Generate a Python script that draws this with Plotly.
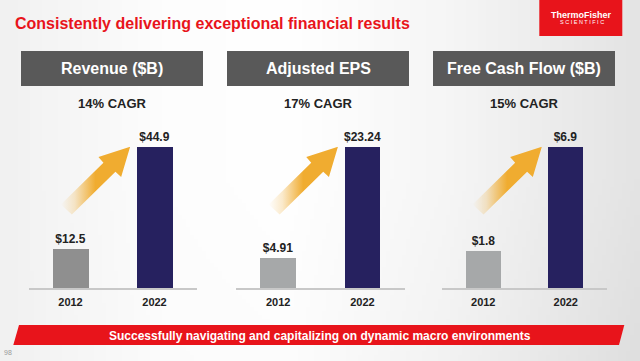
import base64
import struct
import zlib

import numpy as np
import plotly.graph_objects as go

# ---------------- data ----------------
years = ["2012", "2022"]
metrics = ["Revenue ($B)", "Adjusted EPS", "Free Cash Flow ($B)"]
cagr = ["14% CAGR", "17% CAGR", "15% CAGR"]
revenue = [12.5, 44.9]
adjusted_eps = [4.91, 23.24]
free_cash_flow = [1.8, 6.9]
series = [revenue, adjusted_eps, free_cash_flow]

title = "Consistently delivering exceptional financial results"
footer = "Successfully navigating and capitalizing on dynamic macro environments"

# ---------------- styling / layout ----------------
W, H = 640, 361
FONT = "Liberation Sans, Arial, sans-serif"
RED = "#e8141b"
NAVY = "#26215f"
OLD_COLORS = ["#8f8f8f", "#a6a8a9", "#a6a8a9"]
HEADER_GRAY = "#595959"
ORANGE = (240, 172, 48)

panel_px = [(28.5, 196.5), (236.0, 404.5), (442.0, 607.0)]   # x-domain in px
header_px = [(21, 203), (227, 409), (433, 615)]
plot_top_px, plot_bot_px = 146.7, 288.0


def px(x):
    return x / W


def py(y):
    return 1 - y / H


# arrow outline, pixel offsets relative to the tip (y down)
arrow_offsets = [(0, 0), (-31.7, 10.4), (-26.7, 16.0), (-69.3, 57.7),
                 (-58.3, 67.7), (-14.7, 25.0), (-9.0, 30.4), (0, 0)]
arrow_tip_x = 0.71  # in category units


# ---------------- background gradient image ----------------
def make_png(arr):
    h, w, _ = arr.shape
    raw = b"".join(b"\x00" + arr[r].tobytes() for r in range(h))

    def chunk(tag, data):
        c = struct.pack(">I", len(data)) + tag + data
        return c + struct.pack(">I", zlib.crc32(tag + data) & 0xFFFFFFFF)

    ihdr = struct.pack(">IIBBBBB", w, h, 8, 2, 0, 0, 0)
    return (b"\x89PNG\r\n\x1a\n" + chunk(b"IHDR", ihdr) +
            chunk(b"IDAT", zlib.compress(raw, 9)) + chunk(b"IEND", b""))


gw, gh = 160, 90
gx = np.linspace(0, 1, gw)
gy = np.linspace(0, 1, gh)
bx = np.interp(gx, [0, 0.25, 0.45, 0.7, 1.0], [241, 253, 255, 246, 228])
by = np.interp(gy, [0, 0.5, 1.0], [0, 0, -5])
b = np.clip(bx[None, :] + by[:, None] * gx[None, :], 0, 255).astype(np.uint8)
img = np.stack([b, b, b], axis=-1)
bg_uri = "data:image/png;base64," + base64.b64encode(make_png(img)).decode()

# ---------------- figure ----------------
fig = go.Figure()
layout_axes = {}
shapes = []
annotations = []

for i, vals in enumerate(series):
    xa = "x" if i == 0 else f"x{i + 1}"
    ya = "y" if i == 0 else f"y{i + 1}"
    x0, x1 = panel_px[i]
    unit_px = (x1 - x0) / 2.0
    vmax = max(vals)
    h_px = plot_bot_px - plot_top_px

    # arrow
    ax = [arrow_tip_x + dx / unit_px for dx, dy in arrow_offsets]
    ay = [vmax * (1 - dy / h_px) for dx, dy in arrow_offsets]
    r, g, bb = ORANGE
    fig.add_trace(go.Scatter(
        x=ax, y=ay, mode="lines", line=dict(width=0), fill="toself",
        fillgradient=dict(type="horizontal", colorscale=[
            [0.0, f"rgba({r},{g},{bb},0)"],
            [0.2, f"rgba({r},{g},{bb},0.25)"],
            [0.5, f"rgba({r},{g},{bb},1)"],
            [1.0, f"rgba({r},{g},{bb},1)"]]),
        hoverinfo="skip", xaxis=xa, yaxis=ya, showlegend=False))

    # bars
    fig.add_trace(go.Bar(
        x=[0, 1], y=vals, width=0.42,
        marker=dict(color=[OLD_COLORS[i], NAVY], line=dict(width=0)),
        text=[f"${v:g}" for v in vals], textposition="outside",
        textfont=dict(family=FONT, size=12, color="#222222", weight="bold"),
        cliponaxis=False, constraintext="none",
        hoverinfo="skip", xaxis=xa, yaxis=ya, showlegend=False))

    key = "" if i == 0 else str(i + 1)
    layout_axes[f"xaxis{key}"] = dict(
        domain=[px(x0), px(x1)], anchor=ya, range=[-0.5, 1.5],
        tickmode="array", tickvals=[0, 1], ticktext=years,
        tickfont=dict(family=FONT, size=11, color="#222222", weight="bold"),
        ticklabelstandoff=3,
        showline=True, linecolor="#c8c8c8", linewidth=1.5,
        showgrid=False, zeroline=False, ticks="", fixedrange=True)
    layout_axes[f"yaxis{key}"] = dict(
        domain=[py(plot_bot_px), py(plot_top_px)], anchor=xa,
        range=[0, vmax], visible=False, fixedrange=True)

    # header box
    hx0, hx1 = header_px[i]
    shapes.append(dict(type="rect", xref="paper", yref="paper",
                       x0=px(hx0), x1=px(hx1), y0=py(86), y1=py(51),
                       fillcolor=HEADER_GRAY, line=dict(width=0), layer="below"))
    annotations.append(dict(
        text=metrics[i], xref="paper", yref="paper",
        x=px((hx0 + hx1) / 2), y=py(68.5), showarrow=False,
        xanchor="center", yanchor="middle",
        font=dict(family=FONT, size=16, color="white", weight="bold")))
    annotations.append(dict(
        text=cagr[i], xref="paper", yref="paper",
        x=px((hx0 + hx1) / 2), y=py(103.3), showarrow=False,
        xanchor="center", yanchor="middle",
        font=dict(family=FONT, size=13, color="#222222", weight="bold")))

# title
annotations.append(dict(
    text=title, xref="paper", yref="paper", x=px(13), y=py(23.5),
    showarrow=False, xanchor="left", yanchor="middle",
    font=dict(family=FONT, size=16, color=RED, weight="bold")))

# logo
shapes.append(dict(type="rect", xref="paper", yref="paper",
                   x0=px(539.3), x1=px(622.3), y0=py(36), y1=py(0),
                   fillcolor=RED, line=dict(width=0), layer="below"))
annotations.append(dict(
    text="ThermoFisher", xref="paper", yref="paper", x=px(581.5), y=py(15),
    showarrow=False, xanchor="center", yanchor="middle",
    font=dict(family=FONT, size=9, color="white", weight="bold")))
annotations.append(dict(
    text="S C I E N T I F I C", xref="paper", yref="paper", x=px(581.5), y=py(22.5),
    showarrow=False, xanchor="center", yanchor="middle",
    font=dict(family=FONT, size=5.5, color="white")))

# footer banner
path = (f"M {px(19)},{py(325)} L {px(624.3)},{py(325)} "
        f"L {px(619)},{py(345)} L {px(13.3)},{py(345)} Z")
shapes.append(dict(type="path", xref="paper", yref="paper", path=path,
                   fillcolor=RED, line=dict(width=0), layer="below"))
annotations.append(dict(
    text=footer, xref="paper", yref="paper", x=px(319.5), y=py(335.5),
    showarrow=False, xanchor="center", yanchor="middle",
    font=dict(family=FONT, size=12, color="white", weight="bold")))

# page number
annotations.append(dict(
    text="98", xref="paper", yref="paper", x=px(2), y=py(352.7),
    showarrow=False, xanchor="left", yanchor="middle",
    font=dict(family=FONT, size=7, color="#9a9a9a")))

fig.update_layout(
    width=W, height=H, margin=dict(l=0, r=0, t=0, b=0),
    paper_bgcolor="white", plot_bgcolor="rgba(0,0,0,0)",
    showlegend=False, bargap=0,
    shapes=shapes, annotations=annotations,
    images=[dict(source=bg_uri, xref="paper", yref="paper", x=0, y=1,
                 sizex=1, sizey=1, sizing="stretch", xanchor="left",
                 yanchor="top", layer="below")],
    **layout_axes)

fig.write_html(
    "out.html", config={"displayModeBar": False},
    post_script="document.body.style.margin='0';document.body.style.padding='0';"
                "document.body.style.overflow='hidden';")
